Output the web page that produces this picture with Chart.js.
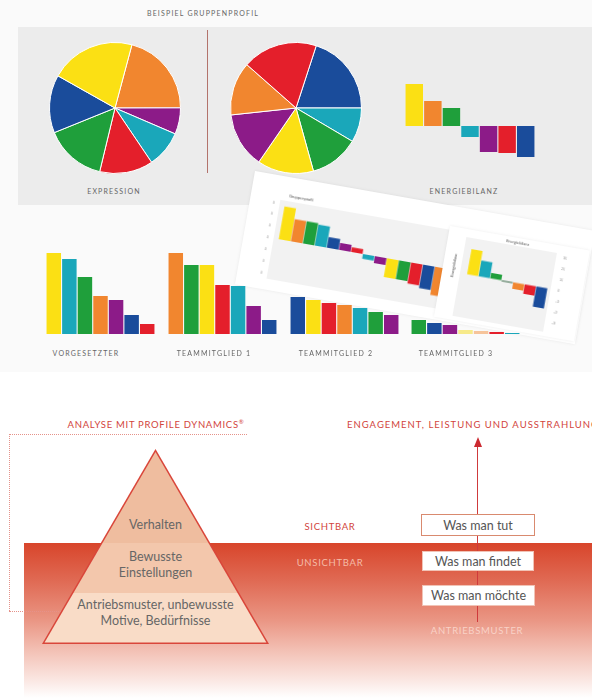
<!DOCTYPE html>
<html>
<head>
<meta charset="utf-8">
<script src="https://cdn.jsdelivr.net/npm/chart.js@4.4.1/dist/chart.umd.min.js"></script>
<style>
    body { margin: 0; width: 592px; height: 698px; overflow: hidden; background: #fff; position: relative; font-family: Lato, "Open Sans", sans-serif; }
    .abs { position: absolute; }
    .cap { position: absolute; transform: translate(-50%, -50%); white-space: nowrap; font-size: 7px; letter-spacing: 1.2px; color: #666; }
    .red { position: absolute; transform: translate(-50%, -50%); white-space: nowrap; font-size: 9.5px; letter-spacing: 0.7px; color: #d2443c; }
    .pyr { position: absolute; transform: translate(-50%, -50%); white-space: nowrap; font-size: 12.5px; color: #666; text-align: center; line-height: 16px; }
    .box { position: absolute; background: #fff; box-sizing: border-box; display: flex; align-items: center; justify-content: center; font-size: 12.5px; color: #555; }
    canvas { position: absolute; }
    .card { position: absolute; background: #fff; transform-origin: 0 0; transform: rotate(10deg); box-shadow: 0 0 3px rgba(0, 0, 0, 0.08); }
    .tiny { position: absolute; font-size: 4px; color: #555; white-space: nowrap; }
</style>
</head>
<body>
<div class="abs" style="left:0;top:0;width:592px;height:372px;background:#fafafa"></div>
<div class="cap" style="left:203px;top:13px">BEISPIEL GRUPPENPROFIL</div>
<div class="abs" style="left:18px;top:27px;width:574px;height:178px;background:#ececec"></div>
<div class="abs" style="left:207px;top:30px;width:1px;height:143px;background:#b3736c"></div>

<canvas id="pie-expression" width="132" height="132" style="left:49px;top:42px"></canvas>
<canvas id="pie-second" width="132" height="132" style="left:230px;top:42px"></canvas>
<canvas id="energie" width="130" height="80" style="left:405px;top:80px"></canvas>
<div class="cap" style="left:114px;top:191px">EXPRESSION</div>
<div class="cap" style="left:464px;top:191px">ENERGIEBILANZ</div>

<div class="card" style="left:255px;top:171px;width:345px;height:115px">
    <div class="abs" style="left:30px;top:24px;width:186px;height:80px;background:#f2f2f2"></div>
    <div class="tiny" style="left:38px;top:16px">Gruppenprofil</div>
    <canvas id="card-big" width="183" height="80" style="left:23px;top:23px"></canvas>
</div>
<div class="card" style="left:450px;top:226px;width:142px;height:92px">
    <div class="abs" style="left:18px;top:8px;width:92px;height:80px;background:#f2f2f2"></div>
    <div class="tiny" style="left:58px;top:2px">Energiebilanz</div>
    <div class="tiny" style="left:10px;top:38px;transform:translate(-50%,-50%) rotate(-90deg)">Energiebilanz</div>
    <canvas id="card-small" width="96" height="75" style="left:25px;top:7px"></canvas>
</div>

<canvas id="team-0" width="109" height="85" style="left:46px;top:249px"></canvas>
<canvas id="team-1" width="109" height="85" style="left:168px;top:249px"></canvas>
<canvas id="team-2" width="109" height="85" style="left:290px;top:249px"></canvas>
<canvas id="team-3" width="109" height="85" style="left:411px;top:249px"></canvas>
<div class="cap" style="left:86px;top:353px">VORGESETZTER</div>
<div class="cap" style="left:214px;top:353px">TEAMMITGLIED 1</div>
<div class="cap" style="left:336px;top:353px">TEAMMITGLIED 2</div>
<div class="cap" style="left:456px;top:353px">TEAMMITGLIED 3</div>

<div class="abs" style="left:24px;top:543px;width:568px;height:155px;background:linear-gradient(to bottom,#d8452b 0%,#e06b55 25%,#ea9684 50%,#f4c6bb 72%,#fbeae6 90%,#fff 100%)"></div>

<div class="red" style="left:156px;top:424px">ANALYSE MIT PROFILE DYNAMICS<sup style="font-size:6px">®</sup></div>
<div class="red" style="left:347px;top:424px;transform:translate(0,-50%);letter-spacing:1px">ENGAGEMENT, LEISTUNG UND AUSSTRAHLUNG</div>
<div class="abs" style="left:9px;top:434px;width:238px;height:0;border-top:1px dotted #e5928a"></div>
<div class="abs" style="left:9px;top:434px;width:0;height:177px;border-left:1px dotted #e5928a"></div>
<div class="abs" style="left:9px;top:611px;width:52px;height:0;border-top:1px dotted #e5928a"></div>

<div class="abs" style="left:42px;top:449px;width:227px;height:195px;background:#d9463a;clip-path:polygon(50% 0,100% 100%,0 100%)"></div>
<div class="abs" style="left:42px;top:449px;width:227px;height:195px;background:linear-gradient(to bottom,#efbd9f 0px,#efbd9f 94px,#f3c7ac 94px,#f3c7ac 144px,#f9dcc7 144px);clip-path:polygon(50% 3px,calc(100% - 2.6px) calc(100% - 1.5px),2.6px calc(100% - 1.5px))"></div>
<div class="pyr" style="left:155.5px;top:525px">Verhalten</div>
<div class="pyr" style="left:155.5px;top:565px">Bewusste<br>Einstellungen</div>
<div class="pyr" style="left:155.5px;top:613px">Antriebsmuster, unbewusste<br>Motive, Bedürfnisse</div>

<div class="red" style="left:330px;top:526px">SICHTBAR</div>
<div class="red" style="left:330px;top:562px;color:#f5bba8">UNSICHTBAR</div>

<div class="abs" style="left:477px;top:445px;width:1px;height:177px;background:#cf3a3c"></div>
<div class="abs" style="left:473.5px;top:437px;width:0;height:0;border-left:4px solid transparent;border-right:4px solid transparent;border-bottom:10px solid #cc2a31"></div>
<div class="box" style="left:421px;top:514px;width:114px;height:22px;border:1.5px solid #d98a6f">Was man tut</div>
<div class="box" style="left:422px;top:551px;width:112px;height:20px;border:1px solid #f1c3b6">Was man findet</div>
<div class="box" style="left:422px;top:585px;width:113px;height:21px;border:1px solid #f1c3b6">Was man möchte</div>
<div class="red" style="left:477px;top:630px;color:#f9d2c7">ANTRIEBSMUSTER</div>

<script>
    const YELLOW = "#fbe014";
    const ORANGE = "#f1862f";
    const GREEN = "#1f9f3b";
    const CYAN = "#1aa7ba";
    const BLUE = "#1a4c9b";
    const PURPLE = "#8c1b88";
    const RED = "#e41f2b";
    const DARK = "#3c6a4a";

    // Expression pie, clockwise from the top
    const expressionLabels = ["Orange", "Violett", "Türkis", "Rot", "Grün", "Blau", "Gelb"];
    const expressionValues = [20.8, 6.5, 9.1, 13.2, 15.1, 14.3, 21];
    const expressionColors = [ORANGE, PURPLE, CYAN, RED, GREEN, BLUE, YELLOW];

    const secondPieLabels = ["Blau", "Türkis", "Grün", "Gelb", "Violett", "Orange", "Rot"];
    const secondPieValues = [20, 8.5, 12.2, 13.9, 13.7, 13.2, 18.5];
    const secondPieColors = [BLUE, CYAN, GREEN, YELLOW, PURPLE, ORANGE, RED];

    const energieLabels = ["Gelb", "Orange", "Grün", "Türkis", "Violett", "Rot", "Blau"];
    const energieValues = [42, 25, 18, -11, -26, -27, -31];
    const energieColors = [YELLOW, ORANGE, GREEN, CYAN, PURPLE, RED, BLUE];

    const teamNames = ["Vorgesetzter", "Teammitglied 1", "Teammitglied 2", "Teammitglied 3"];
    const teamValues = [
        [81, 75, 57, 38, 34, 19, 10],
        [81, 69, 69, 49, 48, 28, 14],
        [37, 34, 31, 29, 26, 22, 19],
        [14, 11, 9, 4, 3, 2, 1],
    ];
    const teamColors = [
        [YELLOW, CYAN, GREEN, ORANGE, PURPLE, BLUE, RED],
        [ORANGE, GREEN, YELLOW, RED, CYAN, PURPLE, BLUE],
        [BLUE, YELLOW, RED, ORANGE, CYAN, GREEN, PURPLE],
        [GREEN, BLUE, PURPLE, "#f7ea8a", "#f6c49a", RED, CYAN],
    ];

    const cardBigValues = [28, 19, 19, 18, 9, 6, 4, -4, -6, -16, -16, -18, -20, -24];
    const cardBigColors = [YELLOW, ORANGE, GREEN, CYAN, BLUE, PURPLE, RED, CYAN, PURPLE, YELLOW, GREEN, RED, BLUE, ORANGE];

    const cardSmallValues = [23, 14.5, 5, -1, -6, -8.5, -18.5];
    const cardSmallColors = [YELLOW, CYAN, GREEN, DARK, ORANGE, RED, BLUE];

    const cardTicks = [30, 20, 10, 0, -10, -20, -30];

    const quiet = { legend: { display: false }, tooltip: { enabled: false }, title: { display: false } };

    function drawPie(id, labels, values, colors, rotation) {
        new Chart(document.getElementById(id), {
            type: "pie",
            data: { labels: labels, datasets: [{ data: values, backgroundColor: colors, borderColor: "#fff", borderWidth: 1 }] },
            options: { responsive: false, animation: false, rotation: rotation, layout: { padding: 0 }, plugins: quiet },
        });
    }

    function drawBars(id, values, colors, min, max, barPct) {
        new Chart(document.getElementById(id), {
            type: "bar",
            data: {
                labels: values.map((v, i) => String(i + 1)),
                datasets: [{ data: values, backgroundColor: colors, borderWidth: 0, barPercentage: barPct, categoryPercentage: 1 }],
            },
            options: {
                responsive: false,
                animation: false,
                layout: { padding: 0 },
                plugins: quiet,
                scales: {
                    x: { display: false },
                    y: { display: false, min: min, max: max },
                },
            },
        });
    }

    function drawCardBars(id, values, colors, side) {
        new Chart(document.getElementById(id), {
            type: "bar",
            data: {
                labels: values.map((v, i) => String(i + 1)),
                datasets: [{ data: values, backgroundColor: colors, borderWidth: 0, barPercentage: 0.96, categoryPercentage: 1 }],
            },
            options: {
                responsive: false,
                animation: false,
                layout: { padding: 0 },
                plugins: quiet,
                scales: {
                    x: { display: false },
                    y: {
                        position: side,
                        min: -30,
                        max: 30,
                        afterBuildTicks: (scale) => {
                            scale.ticks = cardTicks.map((v) => ({ value: v }));
                        },
                        afterFit: (scale) => {
                            scale.width = side === "left" ? 12 : 14;
                        },
                        grid: { display: false },
                        border: { display: false },
                        ticks: { font: { size: 4 }, color: "#999", padding: 2 },
                    },
                },
            },
        });
    }

    drawPie("pie-expression", expressionLabels, expressionValues, expressionColors, 15);
    drawPie("pie-second", secondPieLabels, secondPieValues, secondPieColors, 18);
    drawBars("energie", energieValues, energieColors, -34, 46, 0.94);
    teamNames.forEach((name, i) => drawBars("team-" + i, teamValues[i], teamColors[i], 0, 85, 0.93));
    drawCardBars("card-big", cardBigValues, cardBigColors, "left");
    drawCardBars("card-small", cardSmallValues, cardSmallColors, "right");
</script>
</body>
</html>
